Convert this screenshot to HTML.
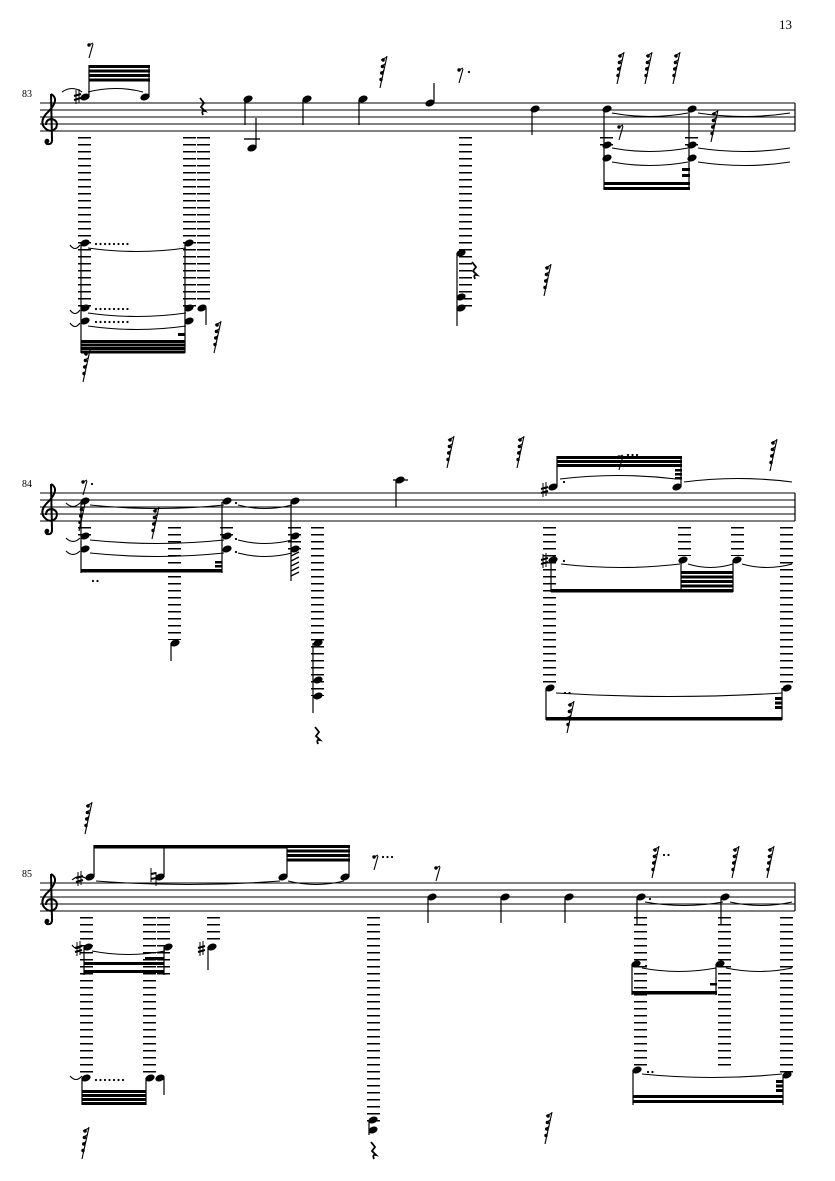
<!DOCTYPE html>
<html><head><meta charset="utf-8"><style>
html,body{margin:0;padding:0;background:#fff}
svg{display:block}
text{font-family:"Liberation Serif",serif;fill:#000}
</style></head><body>
<svg id="s" width="835" height="1181" viewBox="0 0 835 1181" xmlns="http://www.w3.org/2000/svg">
<text x="779" y="29" font-size="13">13</text>
<text x="22" y="97" font-size="10">83</text>
<text x="22" y="487" font-size="10">84</text>
<text x="22" y="877" font-size="10">85</text>
<g id="g"></g>
</svg>
<script>
var o='';
function L(x,y1,y2){o+='<line x1="'+(x+6.5)+'" y1="'+y1+'" x2="'+(x+6.5)+'" y2="'+y2+'" stroke="#000" stroke-width="13" stroke-dasharray="1.5 5.5"/>';}
function H(x,y){o+='<ellipse cx="'+x+'" cy="'+y+'" rx="4.8" ry="3.3" transform="rotate(-22 '+x+' '+y+')"/>';}
function S(x,y1,y2){o+='<line x1="'+x+'" y1="'+y1+'" x2="'+x+'" y2="'+y2+'" stroke="#000" stroke-width="1.2"/>';}
function B(x1,x2,y,h){o+='<rect x="'+x1+'" y="'+y+'" width="'+(x2-x1)+'" height="'+(h||3.5)+'"/>';}
function BB(x1,x2,y,n,d){for(var i=0;i<n;i++)B(x1,x2,y+i*(d||4.5),3);}
function T(x1,x2,y,up){var c=up?y-7:y+7;o+='<path d="M'+x1+' '+y+' Q'+((x1+x2)/2)+' '+c+' '+x2+' '+y+'" fill="none" stroke="#000" stroke-width="1.1"/>';}
function G(x,y){o+='<line x1="'+(x+4)+'" y1="'+(y-16)+'" x2="'+(x-3)+'" y2="'+(y+16)+'" stroke="#000" stroke-width="1.1"/>';for(var i=0;i<4;i++){var yy=y-12+i*6.5;o+='<circle cx="'+(x-2+(3-i)*0.7)+'" cy="'+yy+'" r="1.7"/><line x1="'+(x-2)+'" y1="'+yy+'" x2="'+(x+4-i*1.4)+'" y2="'+(yy-3)+'" stroke="#000" stroke-width="1"/>';}}
function G1(x,y){o+='<line x1="'+(x+3)+'" y1="'+(y-6)+'" x2="'+(x-1)+'" y2="'+(y+8)+'" stroke="#000" stroke-width="1.1"/><circle cx="'+(x-1)+'" cy="'+(y-5)+'" r="1.7"/><line x1="'+(x-1)+'" y1="'+(y-5)+'" x2="'+(x+3)+'" y2="'+(y-7)+'" stroke="#000" stroke-width="1"/>';}
function D(x,y,n){for(var i=0;i<n;i++)o+='<circle cx="'+(x+i*4.5)+'" cy="'+y+'" r="1.1"/>';}
function R(x,y){o+='<path d="M'+x+' '+(y-8)+' l4 5 l-3 4 l4 4 q-4 -1 -2 4" fill="none" stroke="#000" stroke-width="1.8"/>';}
function SH(x,y){o+='<g stroke="#000"><line x1="'+(x+2)+'" y1="'+(y-7)+'" x2="'+(x+2)+'" y2="'+(y+7)+'" stroke-width="1"/><line x1="'+(x+5)+'" y1="'+(y-8)+'" x2="'+(x+5)+'" y2="'+(y+6)+'" stroke-width="1"/><line x1="'+x+'" y1="'+(y-1)+'" x2="'+(x+7)+'" y2="'+(y-3)+'" stroke-width="2"/><line x1="'+x+'" y1="'+(y+3)+'" x2="'+(x+7)+'" y2="'+(y+1)+'" stroke-width="2"/></g>';}
function staff(y){for(var i=0;i<5;i++)o+='<line x1="40" y1="'+(y+i*7)+'" x2="795" y2="'+(y+i*7)+'" stroke="#000" stroke-width="0.9"/>';o+='<line x1="795" y1="'+y+'" x2="795" y2="'+(y+28)+'" stroke="#000" stroke-width="1.2"/>';
o+='<path d="M51 '+(y-9)+' L52 '+(y+37)+' q0 5 -5 4 q-3 -2 0 -4 M51 '+(y-9)+' q9 5 -2 17 q-10 9 -5 16 q6 7 12 1 q3 -7 -4 -9 q-6 0 -6 6" fill="none" stroke="#000" stroke-width="2"/><circle cx="47" cy="'+(y+38)+'" r="2.3"/>';}
staff(103);staff(493);staff(883);
// ---- system 1
G1(90,50);
SH(74,97);H(85,97);H(145,97);S(89,97,65);S(149,97,65);BB(89,150,65,4);T(88,143,92,true);T(62,82,92,true);
L(78,137,310);L(183,137,310);L(197,137,305);
H(85,243);H(189,243);H(85,308);H(85,321);H(189,308);H(189,321);H(202,308);
S(81,243,353);S(185,243,353);S(206,308,325);BB(81,185,340,4,3.5);B(178,185,333,3);
D(96,244,8);D(96,309,8);D(96,322,8);T(88,186,248,false);T(88,186,313,false);T(88,186,326,false);
T(70,80,245,false);T(70,80,310,false);T(70,80,323,false);
G(217,337);G(86,366);
R(200,106);
H(248,99);H(307,99);H(363,99);S(245,100,125);S(303,100,125);S(359,100,125);
H(252,148);o+='<line x1="244" y1="139" x2="260" y2="139" stroke="#000" stroke-width="1.4"/>';S(256,148,118);
H(430,103);S(434,103,83);H(535,109);S(532,110,135);
G(383,72);G1(460,75);D(469,72,1);
L(459,137,310);H(461,253);H(461,297);H(461,308);S(457,253,326);R(472,270);
G(547,280);
H(607,109);H(607,145);H(607,158);H(692,109);H(692,145);H(692,158);
S(604,110,190);S(689,110,190);BB(604,690,182,2,5);B(682,690,168,3);B(682,690,174,3);
L(600,137,150);L(685,137,150);
T(612,688,113,false);T(612,688,148,false);T(612,688,162,false);T(698,790,113,false);T(698,790,148,false);T(698,790,162,false);
G1(620,132);G(620,68);G(648,68);G(676,68);G(714,126);
// ---- system 2
G1(84,487);D(92,484,1);
H(85,501);H(227,501);H(295,501);H(85,536);H(85,549);H(227,536);H(227,549);H(295,536);H(295,549);
S(81,502,573);S(222,502,573);B(81,222,569,3.5);B(215,222,561,2.5);B(215,222,565,2.5);
S(291,502,581);for(var i=0;i<5;i++)o+='<line x1="291" y1="'+(556+i*5)+'" x2="299" y2="'+(552+i*5)+'" stroke="#000" stroke-width="1.3"/>';
D(236,503,1);D(236,539,1);D(236,552,1);
T(90,224,505,false);T(90,224,540,false);T(90,224,553,false);T(238,292,505,false);T(238,292,540,false);T(238,292,553,false);
T(66,80,503,false);T(66,80,538,false);T(66,80,551,false);
L(78,527,540);L(220,527,540);L(288,527,550);
G(82,515);D(93,581,2);G(155,523);
L(168,527,640);H(175,643);S(171,643,661);
L(311,527,696);H(318,643);H(318,680);H(318,696);S(313,643,713);R(315,735);
H(400,480);o+='<line x1="393" y1="480" x2="408" y2="480" stroke="#000" stroke-width="1.3"/>';S(396,481,507);
G(450,452);G(520,452);G1(620,462);D(628,455,3);G(773,455);
SH(541,490);H(553,487);H(677,487);S(557,487,456);S(681,487,456);BB(557,682,456,3,4);B(675,682,469,2.5);B(675,682,473,2.5);B(675,682,477,2.5);D(564,482,1);
T(560,676,479,true);T(684,792,482,true);
L(543,527,688);L(678,527,556);L(731,527,556);L(780,527,688);
SH(541,561);H(553,560);H(683,560);H(737,560);D(564,561,1);S(551,560,592);S(681,560,592);S(733,560,592);B(551,733,589,3.5);BB(681,733,571,4,4.5);
T(561,680,564,false);T(688,733,564,false);T(742,792,564,false);
H(550,688);H(787,688);S(546,688,720);S(782,688,720);B(546,782,717,3.5);BB(775,782,697,3,4.5);D(565,693,2);T(556,782,693,false);
G(570,717);
// ---- system 3
G(88,818);T(72,88,880,true);
SH(76,879);H(90,877);H(160,877);H(283,877);H(345,877);
o+='<g stroke="#000"><line x1="151" y1="868" x2="151" y2="882" stroke-width="1"/><line x1="156" y1="872" x2="156" y2="886" stroke-width="1"/><line x1="151" y1="874" x2="156" y2="873" stroke-width="2"/><line x1="151" y1="879" x2="156" y2="878" stroke-width="2"/></g>';
S(94,877,845);S(164,877,845);S(287,877,845);S(349,877,845);B(94,287,845,3.5);BB(287,350,845,4,4.5);
T(96,280,881,false);T(288,344,881,false);
G1(375,862);D(383,857,3);G1(437,873);
H(432,897);H(505,897);H(569,897);H(641,897);H(725,897);S(428,898,923);S(501,898,923);S(565,898,923);S(637,898,925);S(721,898,925);
D(650,899,1);T(645,723,902,false);T(730,792,902,false);
G(655,862);D(664,855,2);G(735,862);G(770,862);
L(80,917,1075);L(143,917,1075);L(157,917,975);L(207,917,940);L(367,917,1125);L(634,917,1070);L(718,917,1070);L(780,917,1075);
SH(75,949);H(88,947);H(168,947);SH(198,949);H(212,947);H(636,964);H(720,964);
S(84,947,975);S(164,947,975);S(208,947,970);B(84,164,970,3);BB(84,164,962,1);B(145,164,957,3);
T(92,165,951,false);T(72,82,945,false);
S(632,964,995);S(716,964,995);B(632,717,991,3.5);B(710,717,983,2.5);D(646,966,1);T(642,716,968,false);T(726,792,968,false);
H(86,1078);H(150,1078);H(160,1078);S(82,1078,1105);S(146,1078,1105);BB(82,146,1090,4,4);S(164,1078,1095);D(96,1080,7);T(70,82,1076,false);
H(373,1120);H(373,1130);S(369,1120,1135);R(371,1150);
H(637,1070);H(787,1075);S(633,1070,1105);S(783,1075,1105);BB(633,783,1095,2,5);BB(776,783,1080,3,4.5);D(648,1072,2);T(642,782,1074,false);
G(85,1143);G(548,1128);
document.getElementById('g').innerHTML=o;
</script>
</body></html>
